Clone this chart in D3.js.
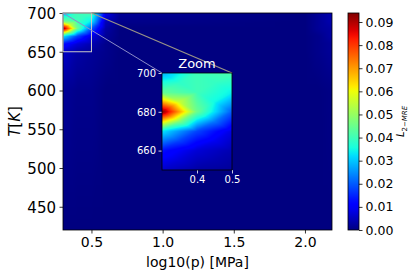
<!DOCTYPE html>
<html>
<head>
<meta charset="utf-8">
<script src="https://cdn.jsdelivr.net/npm/d3@7"></script>
<style>
  body { margin: 0; background: #fff; }
  svg { font-family: "DejaVu Sans", sans-serif; }
</style>
</head>
<body>
<script>
// grid nodes (log10 p) and temperatures
const logp = [0.3, 0.4, 0.5, 0.6, 0.7, 2.0, 2.1, 2.19];
const temps = [420, 600, 650, 660, 670, 680, 690, 700];
// L2-MRE error, one row per temperature
const err420 = [0, 0, 0, 0, 0, 0, 0, 0];
const err600 = [0.002, 0.001, 0.001, 0, 0, 0, 0, 0.0005];
const err650 = [0.006, 0.003, 0.002, 0.001, 0, 0, 0.001, 0.002];
const err660 = [0.013, 0.007, 0.004, 0.001, 0, 0, 0.001, 0.002];
const err670 = [0.033, 0.018, 0.008, 0.002, 0, 0, 0.001, 0.003];
const err680 = [0.094, 0.045, 0.020, 0.003, 0, 0, 0.002, 0.003];
const err690 = [0.044, 0.040, 0.034, 0.005, 0.001, 0, 0.002, 0.004];
const err700 = [0.028, 0.040, 0.041, 0.009, 0.002, 0, 0.002, 0.004];
const grid = [err420, err600, err650, err660, err670, err680, err690, err700];

const xTicks = [0.5, 1.0, 1.5, 2.0];
const yTicks = [450, 500, 550, 600, 650, 700];
const cTicks = [0, 0.01, 0.02, 0.03, 0.04, 0.05, 0.06, 0.07, 0.08, 0.09];
const insetXTicks = [0.4, 0.5];
const insetYTicks = [660, 680, 700];
const vmax = 0.0939;

const W = 417, H = 277;
const M = { left: 63, top: 13, right: 332, bottom: 230 };
const IN = { left: 162, top: 73, right: 232, bottom: 170 };

// jet colormap (matplotlib segments)
const jr = d3.scaleLinear().domain([0, 0.35, 0.66, 0.89, 1]).range([0, 0, 1, 1, 0.5]).clamp(true);
const jg = d3.scaleLinear().domain([0, 0.125, 0.375, 0.64, 0.91, 1]).range([0, 0, 1, 1, 0, 0]).clamp(true);
const jb = d3.scaleLinear().domain([0, 0.11, 0.34, 0.65, 1]).range([0.5, 1, 1, 0, 0]).clamp(true);
const norm = d3.scaleLinear().domain([0, vmax]).range([0, 1]).clamp(true);
const jet = v => { const t = norm(v); return [jr(t) * 255, jg(t) * 255, jb(t) * 255]; };

// gouraud-like shading: each cell split into 4 triangles around its center
function valueAt(lp, T) {
  let i = Math.min(Math.max(d3.bisectRight(logp, lp) - 1, 0), logp.length - 2);
  let j = Math.min(Math.max(d3.bisectRight(temps, T) - 1, 0), temps.length - 2);
  const u = Math.min(Math.max((lp - logp[i]) / (logp[i + 1] - logp[i]), 0), 1);
  const v = Math.min(Math.max((T - temps[j]) / (temps[j + 1] - temps[j]), 0), 1);
  const a = grid[j][i], b = grid[j][i + 1], c = grid[j + 1][i + 1], d = grid[j + 1][i];
  const e = (a + b + c + d) / 4;
  if (v <= u && v <= 1 - u) return (1 - u - v) * a + (u - v) * b + 2 * v * e;
  if (u >= v && u >= 1 - v) return (u - v) * b + (u + v - 1) * c + 2 * (1 - u) * e;
  if (v >= u && v >= 1 - u) return (u + v - 1) * c + (v - u) * d + 2 * (1 - v) * e;
  return (v - u) * d + (1 - u - v) * a + 2 * u * e;
}

function heatImage(xs, ys) {
  const [x0, x1] = xs.range(), [y1, y0] = ys.range();
  const w = Math.round(x1 - x0), h = Math.round(y1 - y0);
  const cv = document.createElement("canvas");
  cv.width = w; cv.height = h;
  const ctx = cv.getContext("2d");
  const img = ctx.createImageData(w, h);
  for (let py = 0; py < h; py++) {
    const T = ys.invert(y0 + py + 0.5);
    for (let px = 0; px < w; px++) {
      const lp = xs.invert(x0 + px + 0.5);
      const col = jet(valueAt(lp, T));
      const k = (py * w + px) * 4;
      img.data[k] = col[0]; img.data[k + 1] = col[1]; img.data[k + 2] = col[2]; img.data[k + 3] = 255;
    }
  }
  ctx.putImageData(img, 0, 0);
  return { href: cv.toDataURL(), x: x0, y: y0, w, h };
}

const svg = d3.select("body").append("svg").attr("width", W).attr("height", H);

// main axes
const x = d3.scaleLinear().domain([0.3, 2.19]).range([M.left, M.right]);
const y = d3.scaleLinear().domain([420, 700]).range([M.bottom, M.top]);

const im = heatImage(x, y);
svg.append("image").attr("href", im.href).attr("x", im.x).attr("y", im.y)
  .attr("width", im.w).attr("height", im.h).attr("preserveAspectRatio", "none");

const gx = svg.append("g").attr("transform", `translate(0,${M.bottom})`)
  .call(d3.axisBottom(x).tickValues(xTicks).tickFormat(d3.format(".1f")).tickSize(3.5).tickPadding(3.5));
const gy = svg.append("g").attr("transform", `translate(${M.left},0)`)
  .call(d3.axisLeft(y).tickValues(yTicks).tickSize(3.5).tickPadding(3.5));
[gx, gy].forEach(g => {
  g.select(".domain").remove();
  g.selectAll("text").attr("fill", "#000").style("font-family", "DejaVu Sans");
  g.selectAll("line").attr("stroke", "#000").attr("stroke-width", 0.8);
});
gx.selectAll("text").style("font-size", "14px");
gy.selectAll("text").style("font-size", "15px").attr("dy", "0.36em");

svg.append("rect").attr("x", M.left).attr("y", M.top)
  .attr("width", M.right - M.left).attr("height", M.bottom - M.top)
  .attr("fill", "none").attr("stroke", "#000").attr("stroke-width", 0.8);

svg.append("text").attr("x", (M.left + M.right) / 2).attr("y", 267)
  .attr("text-anchor", "middle").style("font-size", "14px").text("log10(p) [MPa]");

const yl = svg.append("text").attr("transform", `translate(20,${(M.top + M.bottom) / 2}) rotate(-90)`)
  .attr("text-anchor", "middle").style("font-size", "15px");
yl.append("tspan").style("font-style", "italic").text("T");
yl.append("tspan").text("[");
yl.append("tspan").style("font-style", "italic").text("K");
yl.append("tspan").text("]");

// zoom indicator
const zx = [0.3, 0.5], zy = [650, 700];
svg.append("rect").attr("x", x(zx[0])).attr("y", y(zy[1]))
  .attr("width", x(zx[1]) - x(zx[0])).attr("height", y(zy[0]) - y(zy[1]))
  .attr("fill", "none").attr("stroke", "#c8c8c8").attr("stroke-width", 1);

// inset axes
const xi = d3.scaleLinear().domain(zx).range([IN.left, IN.right]);
const yi = d3.scaleLinear().domain(zy).range([IN.bottom, IN.top]);

svg.append("line").attr("x1", x(zx[0])).attr("y1", y(zy[1])).attr("x2", xi(zx[0])).attr("y2", yi(zy[1]))
  .attr("stroke", "#8c8cc8").attr("stroke-width", 1);
svg.append("line").attr("x1", x(zx[1])).attr("y1", y(zy[1])).attr("x2", xi(zx[1])).attr("y2", yi(zy[1]))
  .attr("stroke", "#9a9486").attr("stroke-width", 1.2);

const imi = heatImage(xi, yi);
svg.append("image").attr("href", imi.href).attr("x", imi.x).attr("y", imi.y)
  .attr("width", imi.w).attr("height", imi.h).attr("preserveAspectRatio", "none");

const gxi = svg.append("g").attr("transform", `translate(0,${IN.bottom})`)
  .call(d3.axisBottom(xi).tickValues(insetXTicks).tickFormat(d3.format(".1f")).tickSize(3.5).tickPadding(2.5));
const gyi = svg.append("g").attr("transform", `translate(${IN.left},0)`)
  .call(d3.axisLeft(yi).tickValues(insetYTicks).tickSize(3.5).tickPadding(2.5));
[gxi, gyi].forEach(g => {
  g.select(".domain").remove();
  g.selectAll("text").attr("fill", "#fff").style("font-size", "10px").style("font-family", "DejaVu Sans");
  g.selectAll("line").attr("stroke", "#fff").attr("stroke-width", 0.8);
});
svg.append("rect").attr("x", IN.left).attr("y", IN.top)
  .attr("width", IN.right - IN.left).attr("height", IN.bottom - IN.top)
  .attr("fill", "none").attr("stroke", "#000").attr("stroke-width", 0.8);

svg.append("text").attr("x", (IN.left + IN.right) / 2).attr("y", 68)
  .attr("text-anchor", "middle").attr("fill", "#fff").style("font-size", "13px").text("Zoom");

// colorbar
const CB = { left: 348, right: 359 };
const c = d3.scaleLinear().domain([0, vmax]).range([M.bottom, M.top]);
const grad = svg.append("defs").append("linearGradient").attr("id", "jet")
  .attr("x1", 0).attr("y1", 1).attr("x2", 0).attr("y2", 0);
d3.range(0, 1.0001, 0.02).forEach(t => {
  const col = jet(t * vmax);
  grad.append("stop").attr("offset", t).attr("stop-color", d3.rgb(col[0], col[1], col[2]));
});
svg.append("rect").attr("x", CB.left).attr("y", M.top).attr("width", CB.right - CB.left)
  .attr("height", M.bottom - M.top).attr("fill", "url(#jet)").attr("stroke", "#000").attr("stroke-width", 0.8);

const gc = svg.append("g").attr("transform", `translate(${CB.right},0)`)
  .call(d3.axisRight(c).tickValues(cTicks).tickFormat(d3.format(".2f")).tickSize(3.5).tickPadding(3));
gc.select(".domain").remove();
gc.selectAll("text").attr("fill", "#000").style("font-size", "12.5px").style("font-family", "DejaVu Sans");
gc.selectAll("line").attr("stroke", "#000").attr("stroke-width", 0.8);

const cl = svg.append("text").attr("transform", `translate(404,${(M.top + M.bottom) / 2}) rotate(-90)`)
  .attr("text-anchor", "middle").style("font-size", "10px");
cl.append("tspan").style("font-style", "italic").text("L");
cl.append("tspan").attr("dy", 2.5).style("font-size", "7px").text("2\u2212");
cl.append("tspan").style("font-size", "7px").style("font-style", "italic").text("MRE");
</script>
</body>
</html>
